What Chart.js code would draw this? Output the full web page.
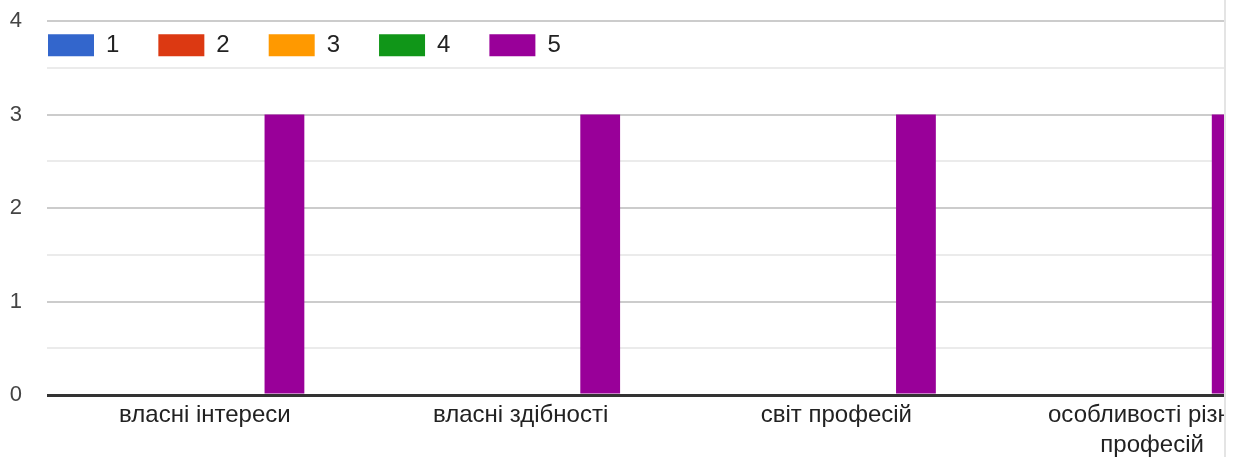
<!DOCTYPE html>
<html><head><meta charset="utf-8">
<script src="https://cdn.jsdelivr.net/npm/chart.js@4.4.1/dist/chart.umd.min.js"></script>
<style>
html,body{margin:0;padding:0;background:#fff;}
#wrap{position:absolute;left:0;top:0;width:1224px;height:457px;overflow:hidden;border-right:2px solid #e4e4e4;}
canvas{display:block;}
</style></head><body>
<div id="wrap"><canvas id="c" width="1310" height="457"></canvas></div>
<script>
// ---- data ----
const categories = ['власні інтереси', 'власні здібності', 'світ професій', ['особливості різних', 'професій']];
const seriesNames = ['1', '2', '3', '4', '5'];
const series1 = [0, 0, 0, 0];
const series2 = [0, 0, 0, 0];
const series3 = [0, 0, 0, 0];
const series4 = [0, 0, 0, 0];
const series5 = [3, 3, 3, 3];
const yTickLabels = ['0', '1', '2', '3', '4'];

// ---- styles ----
const seriesColors = ['#3366cc', '#dc3912', '#ff9900', '#109618', '#990099'];
const FONT = "'Liberation Sans', Arial, sans-serif";
Chart.defaults.font.family = FONT;

const allSeries = [series1, series2, series3, series4, series5];
const datasets = allSeries.map((d, i) => ({
  label: seriesNames[i],
  data: d,
  backgroundColor: seriesColors[i],
  borderWidth: 0,
  categoryPercentage: 0.63,
  barPercentage: 1.0
}));

// Places the library's legend inside the plot area (as in the reference)
const legendInside = {
  id: 'legendInside',
  beforeLayout(chart) {
    const lg = chart.legend;
    if (lg && !lg._insidePatched) {
      const fit = lg.fit;
      lg.fit = function () { fit.call(this); this._fullH = this.height; this.height = 0; };
      lg._insidePatched = true;
    }
  },
  afterLayout(chart) {
    const lg = chart.legend;
    if (!lg) return;
    const ca = chart.chartArea;
    const pad = lg.options.labels.padding;
    lg.top = ca.top + 12.3 - pad;
    lg.bottom = lg.top + lg._fullH;
    lg.left = ca.left + 1 - pad;
  }
};

new Chart(document.getElementById('c'), {
  type: 'bar',
  data: { labels: categories, datasets },
  plugins: [legendInside],
  options: {
    responsive: false,
    animation: false,
    layout: { padding: { top: 21, left: 0, right: 0, bottom: 0 } },
    plugins: {
      tooltip: { enabled: false },
      legend: {
        position: 'top',
        align: 'start',
        labels: {
          boxWidth: 46,
          boxHeight: 22,
          padding: 39,
          color: '#222',
          font: { size: 24, family: FONT }
        }
      }
    },
    scales: {
      x: {
        grid: { display: false, drawTicks: false },
        border: { display: false },
        ticks: {
          color: '#222',
          font: { size: 24, family: FONT, lineHeight: 1.25 },
          padding: 5,
          maxRotation: 0,
          autoSkip: false
        },
        afterFit(s) { s.height = 62; }
      },
      y: {
        min: 0,
        max: 4,
        border: { display: false },
        grid: {
          drawTicks: false,
          color: c => c.tick.value === 0 ? '#333333' : (Number.isInteger(c.tick.value) ? '#cccccc' : '#ebebeb'),
          lineWidth: c => c.tick.value === 0 ? 3 : 2
        },
        ticks: {
          stepSize: 0.5,
          padding: 25,
          color: '#444',
          font: { size: 22, family: FONT },
          callback: v => Number.isInteger(v) ? yTickLabels[v] : ''
        },
        afterFit(s) { s.width = 47; s.paddingTop = 8; s.paddingBottom = 8; }
      }
    }
  }
});
</script>
</body></html>
